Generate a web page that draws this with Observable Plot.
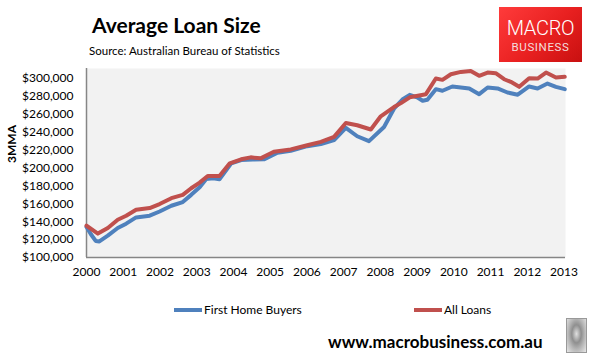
<!DOCTYPE html>
<html>
<head>
<meta charset="utf-8">
<script src="https://cdn.jsdelivr.net/npm/d3@7"></script>
<script src="https://cdn.jsdelivr.net/npm/@observablehq/plot@0.6"></script>
<style>
  html, body { margin: 0; padding: 0; background: #fff; }
  body { font-family: Lato, "Open Sans", sans-serif; }
  #wrap { position: relative; width: 597px; height: 362px; overflow: hidden; }
  #head { position: relative; height: 60px; }
  #title { position: absolute; left: 92px; top: 14px; font-size: 21px; line-height: 21px; font-weight: 700; color: #000; white-space: nowrap; }
  #sub { position: absolute; left: 89px; top: 45px; font-size: 11.5px; line-height: 11.5px; color: #000; white-space: nowrap; }
  #logo { position: absolute; left: 499px; top: 7px; width: 83px; height: 55px; background: linear-gradient(135deg, #ff3b3b 0%, #e82020 55%, #c81010 100%); color: #fff; text-align: center; font-family: Roboto, sans-serif; }
  #logo .m { position: absolute; left: 0; width: 83px; top: 11px; font-size: 20px; line-height: 20px; font-weight: 300; letter-spacing: -0.3px; }
  #logo .b { position: absolute; left: 0; width: 83px; top: 34px; font-size: 11.5px; line-height: 12px; font-weight: 400; letter-spacing: 0.6px; color: #f4dede; }
  #chart { position: relative; height: 230px; }
  #foot { position: relative; height: 72px; }
  .leg { position: absolute; top: 13px; font-size: 12px; line-height: 14px; white-space: nowrap; color: #000; }
  .sw { display: inline-block; width: 28px; height: 4px; vertical-align: middle; margin-right: 2px; position: relative; top: -1px; }
  #url { position: absolute; left: 328px; top: 43px; font-size: 17px; line-height: 17px; font-weight: 700; color: #000; white-space: nowrap; }
  #wolf { position: absolute; left: 566px; top: 28px; width: 19px; height: 33px; border: 1px solid #999; background: radial-gradient(ellipse at 50% 45%, #e0e0e0 0%, #8f8f8f 35%, #b5b5b5 60%, #e8e8e8 100%); }
</style>
</head>
<body>
<div id="wrap">
  <div id="head">
    <div id="title">Average Loan Size</div>
    <div id="sub">Source: Australian Bureau of Statistics</div>
    <div id="logo"><div class="m">MACRO</div><div class="b">BUSINESS</div></div>
  </div>
  <div id="chart"></div>
  <div id="foot">
    <div class="leg" style="left:174px"><span class="sw" style="background:#4f81bd"></span>First Home Buyers</div>
    <div class="leg" style="left:414px"><span class="sw" style="background:#c0504d"></span>All Loans</div>
    <div id="url">www.macrobusiness.com.au</div>
    <div id="wolf"></div>
  </div>
</div>
<script>
// First Home Buyers (3-month moving average), decimal years
const fhbYears = [2000.00, 2000.12, 2000.25, 2000.35, 2000.58, 2000.85, 2001.08, 2001.35, 2001.72, 2001.99,
  2002.31, 2002.62, 2002.85, 2003.08, 2003.26, 2003.45, 2003.62, 2003.94, 2004.21, 2004.53, 2004.83,
  2005.20, 2005.56, 2006.01, 2006.38, 2006.74, 2007.06, 2007.37, 2007.69, 2008.10, 2008.37, 2008.60,
  2008.80, 2009.00, 2009.15, 2009.28, 2009.51, 2009.69, 2009.96, 2010.42, 2010.69, 2010.92, 2011.19,
  2011.46, 2011.74, 2012.05, 2012.28, 2012.55, 2012.78, 2013.02];
const fhbValues = [134000, 126000, 118500, 118000, 124400, 133000, 137800, 144800, 146700, 151400,
  157800, 161900, 170000, 178500, 187800, 188500, 187400, 205200, 208900, 209500, 209700,
  217000, 219200, 224400, 226700, 231100, 244800, 235500, 230000, 245900, 266300, 276500,
  281800, 279000, 275200, 276300, 288100, 286300, 291100, 288900, 282500, 290000, 288900,
  284400, 281900, 291100, 288900, 294400, 290700, 288100];

// All Loans (3-month moving average), decimal years
const allYears = [2000.00, 2000.31, 2000.58, 2000.85, 2001.08, 2001.35, 2001.72, 2001.99, 2002.31, 2002.62,
  2002.85, 2003.08, 2003.30, 2003.62, 2003.90, 2004.21, 2004.47, 2004.74, 2005.10, 2005.56, 2006.01,
  2006.38, 2006.74, 2007.06, 2007.37, 2007.74, 2008.01, 2008.37, 2008.56, 2008.80, 2009.24, 2009.51,
  2009.69, 2009.92, 2010.19, 2010.46, 2010.69, 2010.92, 2011.14, 2011.37, 2011.55, 2011.78, 2012.05,
  2012.28, 2012.51, 2012.78, 2013.02];
const allValues = [135500, 126700, 133000, 142200, 146700, 153300, 155200, 159700, 166300, 170000,
  177400, 183700, 191100, 191100, 205200, 209700, 211900, 210800, 218100, 220800, 225500,
  229200, 234800, 250300, 247800, 243000, 257800, 268100, 272500, 279000, 282500, 300000,
  298500, 304800, 307400, 308500, 303000, 306700, 305900, 299200, 296300, 290700, 300300,
  300000, 306700, 301100, 301900];

const yearTicks = [2000, 2001, 2002, 2003, 2004, 2005, 2006, 2007, 2008, 2009, 2010, 2011, 2012, 2013];
const valueTicks = [100000, 120000, 140000, 160000, 180000, 200000, 220000, 240000, 260000, 280000, 300000];
const yLabel = "3MMA";

const fhb = fhbYears.map((t, i) => ({t, v: fhbValues[i]}));
const all = allYears.map((t, i) => ({t, v: allValues[i]}));

const fmt = d3.format(",");
const chart = Plot.plot({
  width: 597,
  height: 230,
  marginTop: 8,
  marginBottom: 33,
  marginLeft: 86,
  marginRight: 32,
  style: {fontFamily: "Lato, 'Open Sans', sans-serif", fontSize: "12px", color: "#000", background: "transparent"},
  x: {domain: [2000, 2013.04]},
  y: {domain: [100000, 311200]},
  marks: [
    Plot.frame({fill: "#f2f2f2", stroke: null}),
    Plot.ruleX([2000], {stroke: "#868686", strokeWidth: 1.5}),
    Plot.ruleY([100000], {stroke: "#868686", strokeWidth: 1.5}),
    Plot.axisY({ticks: valueTicks, tickSize: 0, tickPadding: 13, tickFormat: d => "$" + fmt(d), label: null, fill: "#000"}),
    Plot.axisX({ticks: yearTicks, tickSize: 0, tickPadding: 10, tickFormat: d => String(d), label: null, fill: "#000"}),
    Plot.text([yLabel], {frameAnchor: "left", dx: -74, rotate: -90, fontWeight: "bold", fontSize: 12, fill: "#000"}),
    Plot.line(fhb, {x: "t", y: "v", stroke: "#4f81bd", strokeWidth: 4, strokeLinejoin: "round", strokeLinecap: "round"}),
    Plot.line(all, {x: "t", y: "v", stroke: "#c0504d", strokeWidth: 4, strokeLinejoin: "round", strokeLinecap: "round"})
  ]
});
document.getElementById("chart").appendChild(chart);
</script>
</body>
</html>
